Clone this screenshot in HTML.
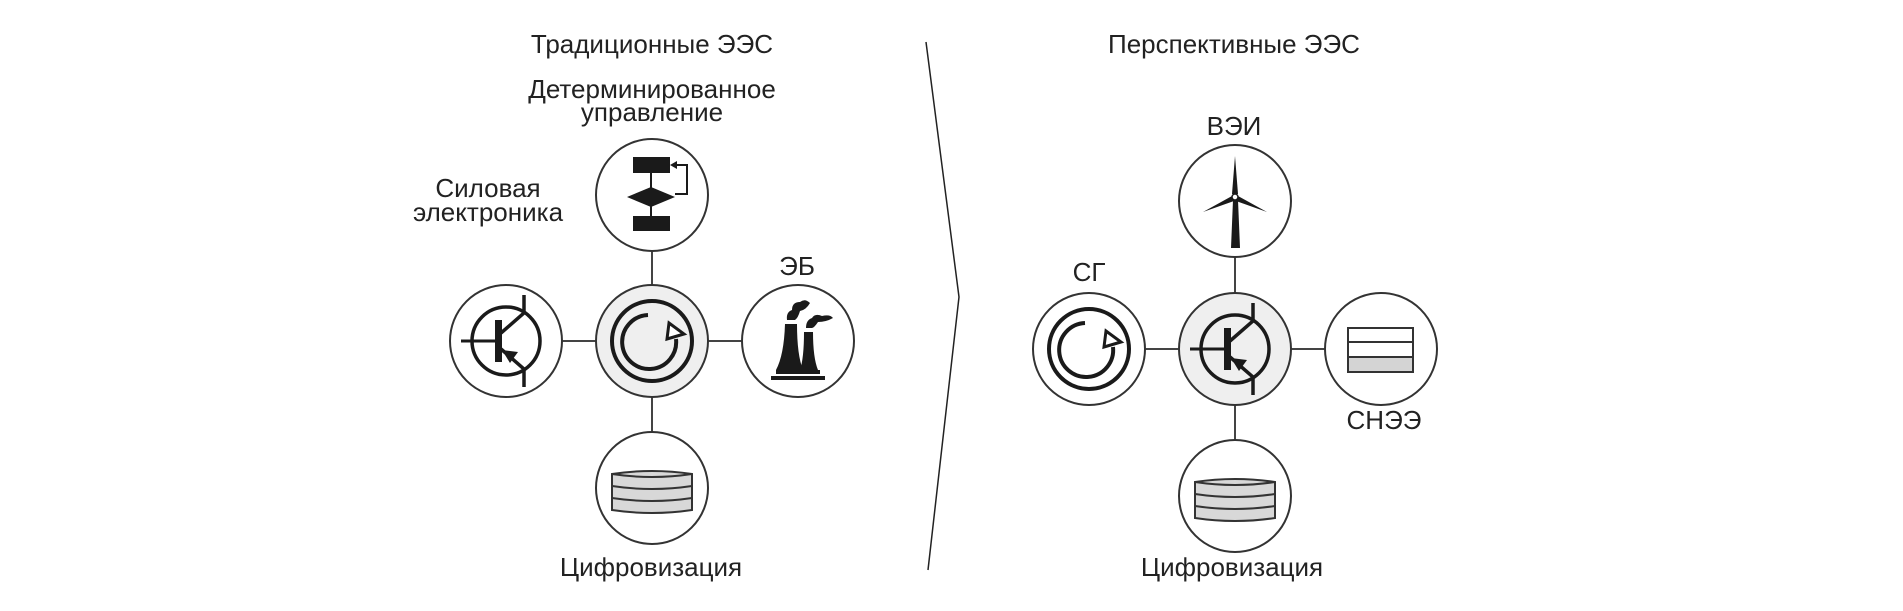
<!DOCTYPE html>
<html><head><meta charset="utf-8"><style>
html,body{margin:0;padding:0;background:#fff;}
svg{display:block;}
text{font-family:"Liberation Sans","Noto Sans CJK SC",sans-serif;font-size:26px;fill:#222;text-anchor:middle;}
</style></head><body>
<svg width="1903" height="611" viewBox="0 0 1903 611" xmlns="http://www.w3.org/2000/svg">
<defs>
<g id="gen">
  <circle r="40" fill="none" stroke="#1a1a1a" stroke-width="4"/>
  <path d="M -4 -26 A 27 27 0 1 0 24 -2" fill="none" stroke="#1a1a1a" stroke-width="4"/>
  <path d="M 17 -18 L 32 -7 L 15 -2 Z" fill="#fff" stroke="#1a1a1a" stroke-width="3" stroke-linejoin="miter"/>
</g>
<g id="tr">
  <circle r="34" fill="none" stroke="#1a1a1a" stroke-width="3.5"/>
  <line x1="-45" y1="0" x2="-10" y2="0" stroke="#1a1a1a" stroke-width="3"/>
  <rect x="-11" y="-21" width="7" height="42" fill="#1a1a1a"/>
  <polyline points="-5,-8 18,-28 18,-46" fill="none" stroke="#1a1a1a" stroke-width="3.5"/>
  <polyline points="-5,8 18,28 18,46" fill="none" stroke="#1a1a1a" stroke-width="3.5"/>
  <path d="M -4 9 L 12 11 L 4 22 Z" fill="#1a1a1a"/>
</g>
<g id="db">
  <path d="M -40 -16 Q 0 -22 40 -16 L 40 20 Q 0 26 -40 20 Z" fill="#d8d8d8" stroke="#333" stroke-width="2"/>
  <path d="M -40 -16 Q 0 -10 40 -16" fill="none" stroke="#333" stroke-width="2"/>
  <path d="M -40 -4 Q 0 2 40 -4" fill="none" stroke="#333" stroke-width="2"/>
  <path d="M -40 8 Q 0 14 40 8" fill="none" stroke="#333" stroke-width="2"/>
</g>
</defs>

<text x="652" y="53">Традиционные ЭЭС</text>
<text x="652" y="98">Детерминированное</text>
<text x="652" y="121">управление</text>
<text x="488" y="197">Силовая</text>
<text x="488" y="221">электроника</text>
<text x="797" y="275">ЭБ</text>
<text x="651" y="576">Цифровизация</text>

<text x="1234" y="53">Перспективные ЭЭС</text>
<text x="1234" y="135">ВЭИ</text>
<text x="1089" y="281">СГ</text>
<text x="1384" y="429">СНЭЭ</text>
<text x="1232" y="576">Цифровизация</text>

<polyline points="926,42 959,297 928,570" fill="none" stroke="#222" stroke-width="1.5"/>

<g stroke="#444" stroke-width="2">
  <line x1="652" y1="195" x2="652" y2="488"/>
  <line x1="506" y1="341" x2="798" y2="341"/>
  <line x1="1235" y1="201" x2="1235" y2="496"/>
  <line x1="1089" y1="349" x2="1381" y2="349"/>
</g>

<g stroke="#333" stroke-width="2" fill="#fff">
  <circle cx="652" cy="195" r="56"/>
  <circle cx="506" cy="341" r="56"/>
  <circle cx="798" cy="341" r="56"/>
  <circle cx="652" cy="488" r="56"/>
  <circle cx="652" cy="341" r="56" fill="#efefef"/>
</g>
<use href="#gen" x="652" y="341"/>
<use href="#tr" x="506" y="341"/>
<use href="#db" x="652" y="490"/>
<g fill="#1a1a1a">
  <rect x="633" y="157" width="37" height="16"/>
  <path d="M 627 197 L 651 187 L 675 197 L 651 207 Z"/>
  <rect x="633" y="216" width="37" height="15"/>
  <line x1="651" y1="173" x2="651" y2="216" stroke="#1a1a1a" stroke-width="2"/>
  <polyline points="675,194 687,194 687,165 673,165" fill="none" stroke="#1a1a1a" stroke-width="2"/>
  <path d="M 670 165 L 677 161 L 677 169 Z"/>
</g>
<g fill="#1a1a1a">
  <path d="M 785 324 Q 784 355 776 370 L 803 370 Q 797 355 797 324 Z"/>
  <path d="M 804 332 Q 804 358 800 370 L 818 370 Q 813 358 813 332 Z"/>
  <rect x="776" y="370" width="44" height="4"/>
  <rect x="771" y="376" width="54" height="4"/>
  <path d="M 787 320 Q 786 312 792 310 Q 792 302 800 302 Q 805 298 810 303 Q 806 310 800 311 Q 798 318 795 320 Z"/>
  <path d="M 806 328 Q 806 320 812 318 Q 815 313 822 316 Q 830 314 833 318 Q 826 322 818 322 Q 814 328 812 328 Z"/>
</g>

<g stroke="#333" stroke-width="2" fill="#fff">
  <circle cx="1235" cy="201" r="56"/>
  <circle cx="1089" cy="349" r="56"/>
  <circle cx="1381" cy="349" r="56"/>
  <circle cx="1235" cy="496" r="56"/>
  <circle cx="1235" cy="349" r="56" fill="#efefef"/>
</g>
<use href="#gen" x="1089" y="349"/>
<use href="#tr" x="1235" y="349"/>
<use href="#db" x="1235" y="498"/>
<g stroke="#333" stroke-width="2">
  <rect x="1348" y="328" width="65" height="14" fill="#fff"/>
  <rect x="1348" y="342" width="65" height="15" fill="#fff"/>
  <rect x="1348" y="357" width="65" height="15" fill="#d4d4d4"/>
</g>
<g fill="#1a1a1a">
  <path d="M 1231 248 L 1233 200 L 1238 200 L 1240 248 Z"/>
  <path d="M 1232 194 L 1235 156 L 1238 194 Z"/>
  <path d="M 1232 196 L 1203 212 L 1234 201 Z"/>
  <path d="M 1238 196 L 1267 212 L 1236 201 Z"/>
  <circle cx="1235" cy="197" r="3" fill="#fff" stroke="#1a1a1a" stroke-width="1.5"/>
</g>
</svg>
</body></html>
